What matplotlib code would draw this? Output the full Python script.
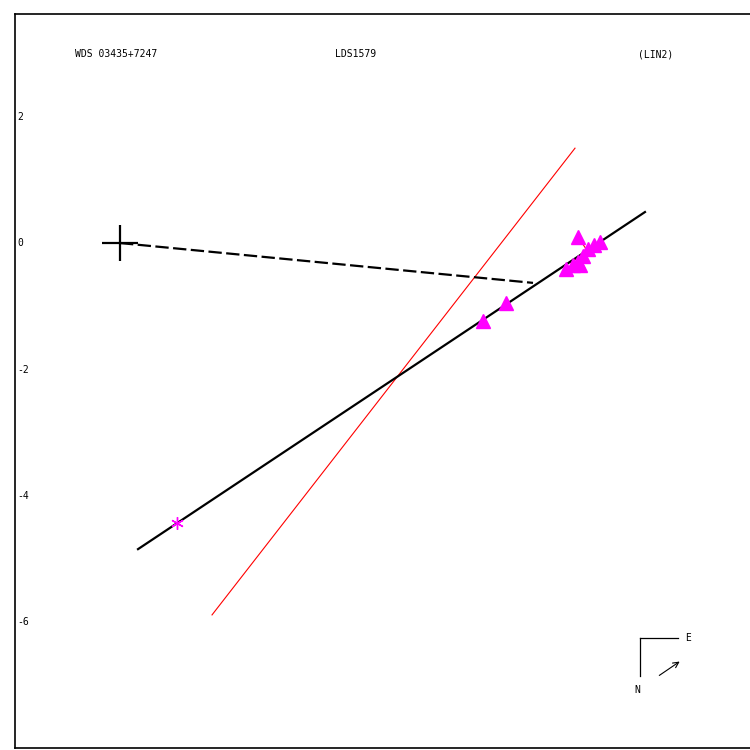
#!/usr/bin/python3
# -*- coding: utf-8 -*-
# orbit / linear fit plot for WDS 03435+7247 (LDS1579)

import numpy as np
import matplotlib
matplotlib.use("Agg")
import matplotlib.pyplot as plt

# header texts
wds_name = "WDS 03435+7247"
disc_name = "LDS1579"
fit_name = "(LIN2)"

# observed positions (arcsec)
obs_x = [7.24, 7.59, 7.49, 7.40, 7.32, 7.24, 7.16, 7.05, 7.27, 5.74, 6.10]
obs_y = [0.10, 0.02, -0.03, -0.10, -0.21, -0.30, -0.35, -0.41, -0.35, -1.23, -0.95]

# first (discovery) measure
first_x = [0.90]
first_y = [-4.43]

# linear fit line (black) end points
fit_x = [0.285, 8.30]
fit_y = [-4.84, 0.49]

# red line end points
red_x = [1.455, 7.194]
red_y = [-5.88, 1.50]

# dashed line from primary to closest point
dash_x = [0.0, 6.53]
dash_y = [0.0, -0.63]

# primary
prim_x = [0.0]
prim_y = [0.0]

ytick_vals = [2, 0, -2, -4, -6]

fig = plt.figure(figsize=(7.5, 7.5), dpi=100)
ax = fig.add_axes([0.02, 0.0027, 1.0, 0.9786])
ax.set_xlim(-1.66, 10.198)
ax.set_ylim(-7.984, 3.621)
ax.set_xticks([])
ax.set_yticks([])
ax.spines["right"].set_visible(False)
for s in ["left", "top", "bottom"]:
    ax.spines[s].set_linewidth(1.2)

mono = "DejaVu Sans Mono"

# residuals: from each observation to its foot on the fit line
p0 = np.array([fit_x[0], fit_y[0]])
d = np.array([fit_x[1] - fit_x[0], fit_y[1] - fit_y[0]])
d = d / np.linalg.norm(d)
for x, y in zip(obs_x, obs_y):
    t = np.dot(np.array([x, y]) - p0, d)
    foot = p0 + t * d
    ax.plot([x, foot[0]], [y, foot[1]], color="red", lw=0.8, zorder=2)

ax.plot(red_x, red_y, color="red", lw=0.8, zorder=2)
ax.plot(fit_x, fit_y, color="black", lw=1.6, zorder=3)
ax.plot(dash_x, dash_y, color="black", lw=1.6, dashes=(6, 2), zorder=3)

ax.plot(obs_x, obs_y, linestyle="none", marker="^", ms=10,
        color="magenta", mec="magenta", zorder=4)
ax.plot(first_x, first_y, linestyle="none", marker=(6, 2, 0), ms=9,
        mew=1.0, color="magenta", zorder=4)
ax.plot(prim_x, prim_y, linestyle="none", marker="+", ms=26,
        mew=1.6, color="black", zorder=5)

# y labels drawn inside the frame
for v in ytick_vals:
    ax.text(-1.63, v, str(v), fontsize=7, family=mono,
            ha="left", va="center")

# header
ax.text(0.1353, 0.945, wds_name, transform=ax.transAxes, fontsize=7,
        family=mono, ha="center", va="center")
ax.text(0.4547, 0.945, disc_name, transform=ax.transAxes, fontsize=7,
        family=mono, ha="center", va="center")
ax.text(0.8547, 0.945, fit_name, transform=ax.transAxes, fontsize=7,
        family=mono, ha="center", va="center")

# compass
ax.plot([0.8333, 0.884], [0.1499, 0.1499], color="black", lw=0.9,
        transform=ax.transAxes)
ax.plot([0.8333, 0.8333], [0.1499, 0.0981], color="black", lw=0.9,
        transform=ax.transAxes)
ax.text(0.8973, 0.1499, "E", transform=ax.transAxes, fontsize=7,
        family=mono, ha="center", va="center")
ax.text(0.8293, 0.079, "N", transform=ax.transAxes, fontsize=7,
        family=mono, ha="center", va="center")
ax.annotate("", xy=(0.8893, 0.1199), xytext=(0.856, 0.0967),
            xycoords="axes fraction",
            arrowprops=dict(arrowstyle="->", lw=0.8, color="black"))

fig.savefig("out.png", dpi=100)
